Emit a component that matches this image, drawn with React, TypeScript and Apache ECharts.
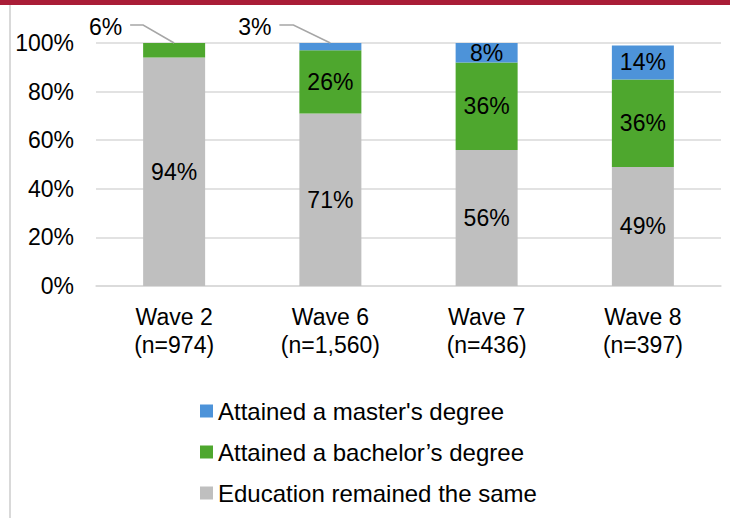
import React, { useEffect, useRef } from "react";
import * as echarts from "echarts";

const waves = ["Wave 2", "Wave 6", "Wave 7", "Wave 8"];
const sampleSizes = ["(n=974)", "(n=1,560)", "(n=436)", "(n=397)"];
const educationSame = [94, 71, 56, 49];
const bachelors = [6, 26, 36, 36];
const masters = [0, 3, 8, 14];
const yTicks = [0, 20, 40, 60, 80, 100];

const seriesNames = [
  "Education remained the same",
  "Attained a bachelor\u2019s degree",
  "Attained a master's degree",
];
const colors = ["#BFBFBF", "#4EA72E", "#4D93D9"];

// small segments whose labels are placed outside with a leader line
const outsideLabels = [
  { wave: 0, series: 1, dx: -44, dx2: -31, dy: -18 },
  { wave: 1, series: 2, dx: -51, dx2: -37, dy: -18 },
];

const FONT = "'Liberation Sans', Arial, sans-serif";
const FS = 23;

export default function App() {
  const ref = useRef<HTMLDivElement>(null);
  useEffect(() => {
    if (!ref.current) return;
    const chart = echarts.init(ref.current, null, { renderer: "svg" });
    const allData = [educationSame, bachelors, masters];
    const isOutside = (s: number, w: number) =>
      outsideLabels.some((o) => o.series === s && o.wave === w);

    const series = allData.map((arr, s) => ({
      name: seriesNames[s],
      type: "bar",
      stack: "total",
      barWidth: 62,
      itemStyle: { color: colors[s] },
      label: {
        show: true,
        position: "inside",
        color: "#000",
        fontSize: FS,
        fontFamily: FONT,
        formatter: (p: any) => (p.value > 0 ? p.value + "%" : ""),
      },
      data: arr.map((v, w) =>
        isOutside(s, w) ? { value: v, label: { show: false } } : v
      ),
    }));

    chart.setOption({
      animation: false,
      textStyle: { fontFamily: FONT },
      grid: { left: 96, right: 9, top: 43, bottom: 232 },
      xAxis: {
        type: "category",
        data: waves,
        axisTick: { show: false },
        axisLine: { lineStyle: { color: "#D9D9D9", width: 1.5 } },
        axisLabel: {
          color: "#000",
          fontSize: FS,
          lineHeight: 28,
          margin: 17,
          fontFamily: FONT,
          formatter: (v: string) => v + "\n" + sampleSizes[waves.indexOf(v)],
        },
      },
      yAxis: {
        type: "value",
        min: yTicks[0],
        max: yTicks[yTicks.length - 1],
        interval: 20,
        axisLine: { show: false },
        axisTick: { show: false },
        splitLine: { lineStyle: { color: "#D9D9D9", width: 1.5 } },
        axisLabel: {
          color: "#000",
          fontSize: FS,
          margin: 22,
          fontFamily: FONT,
          formatter: "{value}%",
        },
      },
      legend: {
        orient: "vertical",
        left: 200,
        top: 399,
        padding: 0,
        icon: "rect",
        itemWidth: 13,
        itemHeight: 13,
        itemGap: 17,
        selectedMode: false,
        data: [seriesNames[2], seriesNames[1], seriesNames[0]],
        textStyle: {
          color: "#000",
          fontSize: 24,
          lineHeight: 24,
          fontFamily: FONT,
        },
      },
      series,
    });

    const graphics: any[] = [
      {
        type: "rect",
        shape: { x: 0, y: 0, width: 730, height: 5 },
        style: { fill: "#A91D37" },
        z: 10,
      },
      {
        type: "rect",
        shape: { x: 9, y: 5, width: 2, height: 513 },
        style: { fill: "#D9D9D9" },
        z: 10,
      },
    ];
    outsideLabels.forEach((o) => {
      let top = 0;
      for (let s = 0; s <= o.series; s++) top += allData[s][o.wave];
      const p = chart.convertToPixel({ xAxisIndex: 0, yAxisIndex: 0 }, [
        waves[o.wave],
        top,
      ]) as number[];
      const [x, y] = p;
      const ly = y + o.dy;
      graphics.push({
        type: "polyline",
        shape: {
          points: [
            [x + o.dx, ly],
            [x + o.dx2, ly],
            [x, y],
          ],
        },
        style: { stroke: "#A6A6A6", lineWidth: 1.5, fill: null },
        z: 10,
      });
      graphics.push({
        type: "text",
        x: x + o.dx - 8,
        y: ly + 2,
        style: {
          text: allData[o.series][o.wave] + "%",
          fill: "#000",
          fontSize: FS,
          fontFamily: FONT,
          align: "right",
          verticalAlign: "middle",
        },
        z: 10,
      });
    });
    chart.setOption({ graphic: graphics });

    return () => chart.dispose();
  }, []);
  return (
    <div
      ref={ref}
      style={{ position: "fixed", left: 0, top: 0, width: 730, height: 518, background: "#fff" }}
    />
  );
}
